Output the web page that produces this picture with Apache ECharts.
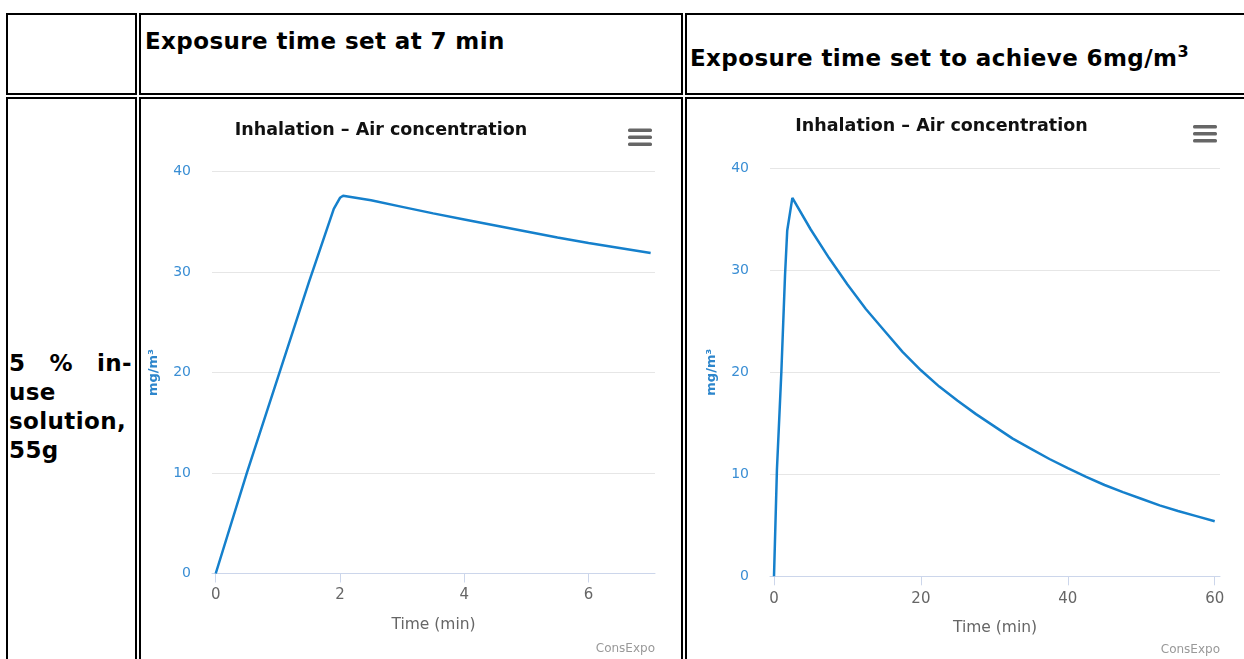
<!DOCTYPE html>
<html>
<head>
<meta charset="utf-8">
<script src="https://cdn.jsdelivr.net/npm/echarts/dist/echarts.min.js"></script>
<style>
  html, body { margin: 0; padding: 0; background: #fff; overflow: hidden; }
  body { width: 1244px; height: 659px; position: relative; font-family: "DejaVu Sans", Verdana, sans-serif; }
  .cell { position: absolute; border: 2px solid #000; box-sizing: border-box; }
  .head { position: absolute; font-weight: bold; font-size: 23px; line-height: 23px; letter-spacing: 0.4px; color: #000; white-space: nowrap; }
  .head sup { font-size: 16px; line-height: 0; vertical-align: 9px; }
  .rowlabel { position: absolute; left: 9px; top: 349px; width: 123px; font-weight: bold; font-size: 23px; line-height: 29px; letter-spacing: 0.4px; text-align: justify; color: #000; }
  .chart { position: absolute; }
</style>
</head>
<body>
  <div class="cell" style="left:6px;top:13px;width:131px;height:82px"></div>
  <div class="cell" style="left:139px;top:13px;width:544px;height:82px"></div>
  <div class="cell" style="left:685px;top:13px;width:600px;height:82px"></div>
  <div class="cell" style="left:6px;top:97px;width:131px;height:600px"></div>
  <div class="cell" style="left:139px;top:97px;width:544px;height:600px"></div>
  <div class="cell" style="left:685px;top:97px;width:600px;height:600px"></div>

  <div class="head" style="left:145px;top:30px">Exposure time set at 7 min</div>
  <div class="head" style="left:690px;top:47px">Exposure time set to achieve 6mg/m<sup>3</sup></div>
  <div class="rowlabel">5 % in-use solution, 55g</div>

  <div id="chartA" class="chart" style="left:141px;top:99px;width:540px;height:560px"></div>
  <div id="chartB" class="chart" style="left:687px;top:99px;width:557px;height:560px"></div>

<script>
// exposure time fixed at 7 min
const timeA = [0, 0.5, 1, 1.5, 1.9, 2.0, 2.05, 2.5, 3, 3.5, 4, 4.5, 5, 5.5, 6, 6.5, 7];
const concA = [0, 10, 19.5, 29, 36.3, 37.4, 37.6, 37.15, 36.5, 35.85, 35.25, 34.65, 34.05, 33.45, 32.9, 32.4, 31.9];

// exposure time set to reach 6 mg/m3
const timeB = [0, 0.4, 1, 1.5, 1.8, 2.5, 5, 7.5, 10, 12.5, 15, 17.5, 20, 22.5, 25, 27.5, 30,
  32.5, 35, 37.5, 40, 42.5, 45, 47.5, 50, 52.5, 55, 57.5, 60];
const concB = [0, 10.5, 20, 29.5, 33.9, 37.1, 34.0, 31.2, 28.6, 26.2, 24.1, 22.0, 20.2, 18.6, 17.2, 15.9, 14.7,
  13.5, 12.5, 11.5, 10.6, 9.75, 8.95, 8.25, 7.6, 6.95, 6.4, 5.9, 5.4];

const ticksA = [0, 2, 4, 6];
const ticksB = [0, 20, 40, 60];

const FONT = "DejaVu Sans";

function pairs(xs, ys) {
  return xs.map(function (x, i) { return [x, ys[i]]; });
}

function hamburger(x, y) {
  let bars = [];
  for (let i = 0; i < 3; i++) {
    bars.push({
      type: "rect",
      shape: { x: x, y: y + i * 7, width: 24, height: 3.6, r: 1.5 },
      style: { fill: "#666" },
      silent: true,
    });
  }
  return bars;
}

function makeChart(el, c) {
  let chart = echarts.init(document.getElementById(el));
  let option = {
    animation: false,
    title: {
      text: "Inhalation \u2013 Air concentration",
      left: c.titleX,
      top: c.titleY,
      textAlign: "center",
      padding: 0,
      textStyle: { fontFamily: FONT, fontSize: 17.5, fontWeight: "bold", color: "#111" },
    },
    grid: {
      left: c.left, right: c.right, top: c.top, bottom: c.bottom,
      containLabel: false,
      outerBoundsMode: "none",
    },
    xAxis: {
      type: "value",
      min: c.xmin,
      max: c.xmax,
      name: "Time (min)",
      nameLocation: "middle",
      nameGap: c.nameGap,
      nameTextStyle: { color: "#666", fontSize: 15.5, fontFamily: FONT },
      axisLine: { lineStyle: { color: "#ccd6eb", width: 1 } },
      axisTick: { customValues: c.ticks, length: 9, lineStyle: { color: "#ccd6eb" } },
      axisLabel: { customValues: c.ticks, color: "#666", fontSize: 15, margin: c.labelMargin, fontFamily: FONT },
      splitLine: { show: false },
    },
    yAxis: {
      type: "value",
      min: 0,
      max: 40,
      interval: 10,
      name: "mg/m\u00b3",
      nameLocation: "middle",
      nameRotate: 90,
      nameGap: 52,
      nameTextStyle: { color: "#2d86cc", fontSize: 13, fontWeight: "bold", fontFamily: FONT },
      axisLine: { show: false },
      axisTick: { show: false },
      axisLabel: { color: "#3a8ed4", fontSize: 14, margin: 21, fontFamily: FONT },
      splitLine: { lineStyle: { color: "#e6e6e6", width: 1 } },
    },
    series: [
      {
        type: "line",
        data: pairs(c.xs, c.ys),
        symbol: "none",
        lineStyle: { color: "#1580cc", width: 2.5 },
      },
    ],
    graphic: hamburger(c.menuX, c.menuY).concat([
      {
        type: "text",
        x: c.creditX,
        y: c.creditY,
        style: {
          text: "ConsExpo",
          fill: "#999",
          font: "12px " + FONT,
          align: "right",
          verticalAlign: "middle",
        },
        silent: true,
      },
    ]),
  };
  chart.setOption(option);
  return chart;
}

makeChart("chartA", {
  xs: timeA, ys: concA, ticks: ticksA,
  xmin: -0.06, xmax: 7.07,
  left: 71, right: 26, top: 72.7, bottom: 85.5,
  titleX: 240, titleY: 22,
  menuX: 487, menuY: 29.5,
  creditX: 514, creditY: 550,
  labelMargin: 14, nameGap: 43,
});

makeChart("chartB", {
  xs: timeB, ys: concB, ticks: ticksB,
  xmin: -0.545, xmax: 60.72,
  left: 83, right: 24, top: 69.3, bottom: 82.7,
  titleX: 254.5, titleY: 18,
  menuX: 506, menuY: 26,
  creditX: 533, creditY: 551,
  labelMargin: 15, nameGap: 44,
});
</script>
</body>
</html>
